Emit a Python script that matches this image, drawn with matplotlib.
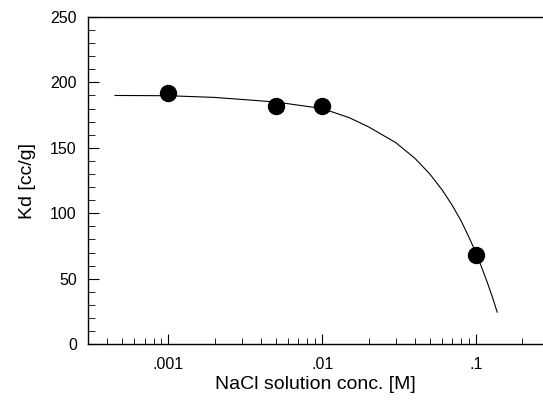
import matplotlib
matplotlib.use('Agg')
import matplotlib.pyplot as plt
from matplotlib.ticker import FixedLocator, FixedFormatter, LogLocator, MultipleLocator

plt.rcParams['font.family'] = ['Liberation Sans', 'DejaVu Sans']

# measured points
conc = [0.001, 0.005, 0.01, 0.1]
kd = [192, 182, 182, 68]

# fitted curve
curve_conc = [0.00045, 0.001, 0.002, 0.005, 0.01, 0.015, 0.02, 0.03, 0.04,
              0.05, 0.06, 0.07, 0.08, 0.09, 0.1, 0.11, 0.12, 0.13, 0.137]
curve_kd = [190, 189.8, 188.5, 185, 180, 173, 166, 154, 142,
            130, 118, 106, 94, 81.5, 69.5, 57, 45, 33, 24.5]

xticks = [0.001, 0.01, 0.1]
xticklabels = ['.001', '.01', '.1']

fig = plt.figure(figsize=(5.43, 4.03), dpi=100)
ax = fig.add_axes([0.162, 0.146, 0.838, 0.812])

ax.plot(curve_conc, curve_kd, color='black', lw=0.8)
ax.plot(conc, kd, 'o', color='black', markersize=11.5)

ax.set_xscale('log')
ax.set_xlim(3.0e-4, 0.272)
ax.set_ylim(0, 250)

ax.xaxis.set_major_locator(FixedLocator(xticks))
ax.xaxis.set_major_formatter(FixedFormatter(xticklabels))
ax.xaxis.set_minor_locator(LogLocator(base=10, subs=range(2, 10)))
ax.xaxis.set_minor_formatter(FixedFormatter([]))
ax.yaxis.set_major_locator(MultipleLocator(50))
ax.yaxis.set_minor_locator(MultipleLocator(10))

ax.tick_params(which='both', direction='in', top=False, right=False, labelsize=11.5)
ax.tick_params(axis='y', which='major', length=8, pad=8)
ax.tick_params(axis='y', which='minor', length=5)
ax.tick_params(axis='x', which='major', length=7, pad=9)
ax.tick_params(axis='x', which='minor', length=4)

ax.spines['right'].set_visible(False)
for s in ['left', 'bottom', 'top']:
    ax.spines[s].set_linewidth(1.0)

ax.set_xlabel('NaCl solution conc. [M]', fontsize=14, labelpad=3)
ax.set_ylabel('Kd [cc/g]', fontsize=14, labelpad=10)

fig.savefig('out.png', dpi=100)
